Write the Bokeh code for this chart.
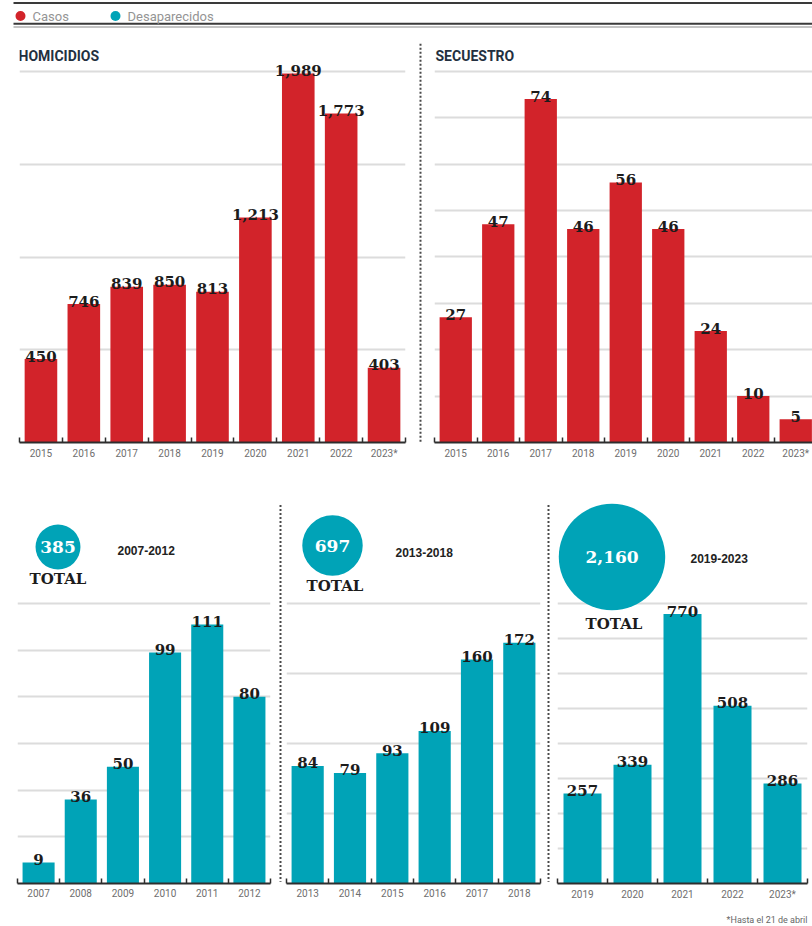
import math
from bokeh.plotting import figure
from bokeh.models import Range1d, FixedTicker, Label, ColumnDataSource
from bokeh.layouts import column, row
from bokeh.embed import file_html
from bokeh.resources import INLINE
from bokeh.core.properties import value

# ---------------- data ----------------
legend_labels = ["Casos", "Desaparecidos"]
hom_title = "HOMICIDIOS"
hom_years = ["2015", "2016", "2017", "2018", "2019", "2020", "2021", "2022", "2023*"]
hom_values = [450, 746, 839, 850, 813, 1213, 1989, 1773, 403]
sec_title = "SECUESTRO"
sec_years = ["2015", "2016", "2017", "2018", "2019", "2020", "2021", "2022", "2023*"]
sec_values = [27, 47, 74, 46, 56, 46, 24, 10, 5]
d1_years = ["2007", "2008", "2009", "2010", "2011", "2012"]
d1_values = [9, 36, 50, 99, 111, 80]
d2_years = ["2013", "2014", "2015", "2016", "2017", "2018"]
d2_values = [84, 79, 93, 109, 160, 172]
d3_years = ["2019", "2020", "2021", "2022", "2023*"]
d3_values = [257, 339, 770, 508, 286]
periods = ["2007-2012", "2013-2018", "2019-2023"]
total_label = "TOTAL"
hom_grid = [500, 1000, 1500, 2000]
sec_grid = [10, 20, 30, 40, 50, 60, 70, 80]
d1_grid = [20, 40, 60, 80, 100, 120]
d2_grid = [50, 100, 150, 200]
d3_grid = [100, 200, 300, 400, 500, 600, 700, 800]
footnote = "*Hasta el 21 de abril"

# ---------------- style ----------------
RED = "#d2232a"
TEAL = "#00a3b7"
DARK = "#1c1c1c"
AXIS = "#2e2e2e"
GRID = "#dcdcdc"
SEP = "#4a4a4a"
NUM_FONT = "DejaVu Serif"
SANS = "Roboto"
BAR_W = 0.76
W = 812


def base_fig(w, h, **kw):
    p = figure(width=w, height=h, output_backend="svg", toolbar_location=None, **kw)
    p.outline_line_color = None
    p.background_fill_color = "white"
    p.border_fill_color = "white"
    return p


def panel(years, values, color, fig_w, fig_h, left, frame_w, bottom, slot, y_scale,
          grid_ticks, ref_x, ref_y):
    n = len(years)
    frame_h = fig_h - bottom
    p = base_fig(fig_w, fig_h,
                 x_range=Range1d(-0.5, -0.5 + frame_w / slot),
                 y_range=Range1d(0, frame_h / y_scale),
                 min_border_left=left, min_border_right=fig_w - left - frame_w,
                 min_border_top=0, min_border_bottom=bottom)
    p.yaxis.visible = False
    p.xgrid.visible = False
    p.ygrid.ticker = FixedTicker(ticks=grid_ticks)
    p.ygrid.grid_line_color = GRID
    p.ygrid.grid_line_width = 2

    src = ColumnDataSource(dict(x=list(range(n)), top=values,
                                label=[f"{v:,}" for v in values]))
    p.vbar(x="x", top="top", bottom=0, width=BAR_W, source=src,
           fill_color=color, line_color=None)
    p.text(x="x", y="top", text="label", source=src, text_align="center",
           text_baseline="alphabetic", y_offset=-3, text_font=value(NUM_FONT),
           text_font_style="bold", text_font_size="15px", text_color=DARK)

    ax = p.xaxis[0]
    ax.ticker = FixedTicker(ticks=list(range(n)),
                            minor_ticks=[i - 0.5 for i in range(n + 1)])
    ax.major_label_overrides = {i: y for i, y in enumerate(years)}
    ax.axis_line_color = AXIS
    ax.axis_line_width = 2
    ax.major_tick_line_color = None
    ax.major_tick_in = 0
    ax.major_tick_out = 0
    ax.minor_tick_line_color = AXIS
    ax.minor_tick_line_width = 1.5
    ax.minor_tick_in = 5
    ax.minor_tick_out = 0
    ax.major_label_standoff = 5
    ax.major_label_text_font = SANS
    ax.major_label_text_font_size = "10px"
    ax.major_label_text_color = "#6e6e6e"

    frame_left_ref = ref_x + left
    baseline_ref = ref_y + frame_h

    def to_data(rx, ry):
        return (-0.5 + (rx - frame_left_ref) / slot, (baseline_ref - ry) / y_scale)

    return p, to_data


def add_title(p, to_data, text, rx, ry):
    x, y = to_data(rx, ry)
    p.add_layout(Label(x=x, y=y, text=text, text_baseline="middle",
                       text_font=SANS, text_font_style="bold",
                       text_font_size="14px", text_color="#23303f"))


def add_total(p, to_data, values, period, bubble, total_pos, period_pos):
    total = sum(values)
    bx, by = to_data(*bubble)
    p.scatter(x=[bx], y=[by], size=[2.29 * math.sqrt(total)], marker="circle",
              fill_color=TEAL, line_color=None)
    p.text(x=[bx], y=[by], text=[f"{total:,}"], text_align="center",
           text_baseline="middle", text_font=value(NUM_FONT), text_font_style="bold",
           text_font_size="17px", text_color="white")
    tx, ty = to_data(*total_pos)
    p.text(x=[tx], y=[ty], text=[total_label], text_align="center",
           text_baseline="middle", text_font=value(NUM_FONT), text_font_style="bold",
           text_font_size="15px", text_color=DARK)
    px_, py_ = to_data(*period_pos)
    p.text(x=[px_], y=[py_], text=[period], text_align="left",
           text_baseline="middle", text_font=value("Liberation Sans"),
           text_font_style="bold", text_font_size="12px", text_color="#222222")


def strip(w, h):
    s = base_fig(w, h, x_range=Range1d(0, w), y_range=Range1d(h, 0), min_border=0,
                 x_axis_location=None, y_axis_location=None)
    s.grid.visible = False
    return s


def sep_fig(w, h, x0, y0, x1, y1):
    s = strip(w, h)
    s.segment(x0=[x0], y0=[y0], x1=[x1], y1=[y1], line_color=SEP,
              line_width=2, line_dash="2 2")
    return s


# ---------------- header / legend ----------------
hdr = strip(W, 30)
hdr.segment(x0=[13], y0=[2.5], x1=[W], y1=[2.5], line_color="#3a3a3a", line_width=2)
hdr.segment(x0=[13], y0=[23.3], x1=[W], y1=[23.3], line_color="#3a3a3a", line_width=2)
hdr.segment(x0=[13], y0=[26.4], x1=[W], y1=[26.4], line_color="#b0b0b0", line_width=1.5)
hdr.scatter(x=[20, 115], y=[15.5, 15.5], size=10, marker="circle",
            fill_color=[RED, TEAL], line_color=None)
hdr.text(x=[32, 127], y=[15.5, 15.5], text=legend_labels, text_baseline="middle",
         text_font=value(SANS), text_font_size="13px", text_color="#949494")

# ---------------- top row ----------------
TOP_H = 465
p_hom, hom_d = panel(hom_years, hom_values, RED, 418, TOP_H, 19, 386, 53, 386 / 9,
                     (442 - 71) / 2000, hom_grid, 0, 30)
add_title(p_hom, hom_d, hom_title, 18, 55)
v_top = sep_fig(4, TOP_H, 2, 15, 2, TOP_H)
p_sec, sec_d = panel(sec_years, sec_values, RED, 390, TOP_H, 12, 378, 53, 42.5,
                     (442 - 70.7) / 80, sec_grid, 422, 30)
add_title(p_sec, sec_d, sec_title, 435, 55)
top_row = row(p_hom, v_top, p_sec)

h_sep = sep_fig(W, 4, 13, 2, W, 2)

# ---------------- bottom row ----------------
BOT_H = 413
p1, d1 = panel(d1_years, d1_values, TEAL, 278, BOT_H, 17, 253, 29, 253 / 6,
               (883 - 603) / 120, d1_grid, 0, 499)
add_total(p1, d1, d1_values, periods[0], (57.5, 546.5), (57.5, 578), (117, 550))
v1 = sep_fig(4, BOT_H, 2, 6, 2, 411)
p2, d2 = panel(d2_years, d2_values, TEAL, 264, BOT_H, 4, 254, 29, 254 / 6,
               (883 - 603) / 200, d2_grid, 282, 499)
add_total(p2, d2, d2_values, periods[1], (332, 545), (334.5, 585), (395, 552))
v2 = sep_fig(4, BOT_H, 2, 6, 2, 411)
p3, d3 = panel(d3_years, d3_values, TEAL, 262, BOT_H, 7, 250, 29, 50,
               (883 - 603) / 800, d3_grid, 550, 499)
add_total(p3, d3, d3_values, periods[2], (611.5, 556.5), (613.5, 623), (690, 558))
bottom_row = row(p1, v1, p2, v2, p3)

foot = strip(W, 14)
foot.text(x=[807], y=[7.5], text=[footnote], text_align="right", text_baseline="middle",
          text_font=value(SANS), text_font_size="9px", text_color="#666666")

layout = column(hdr, top_row, h_sep, bottom_row, foot)

open("out.html", "w").write(file_html(layout, INLINE))
